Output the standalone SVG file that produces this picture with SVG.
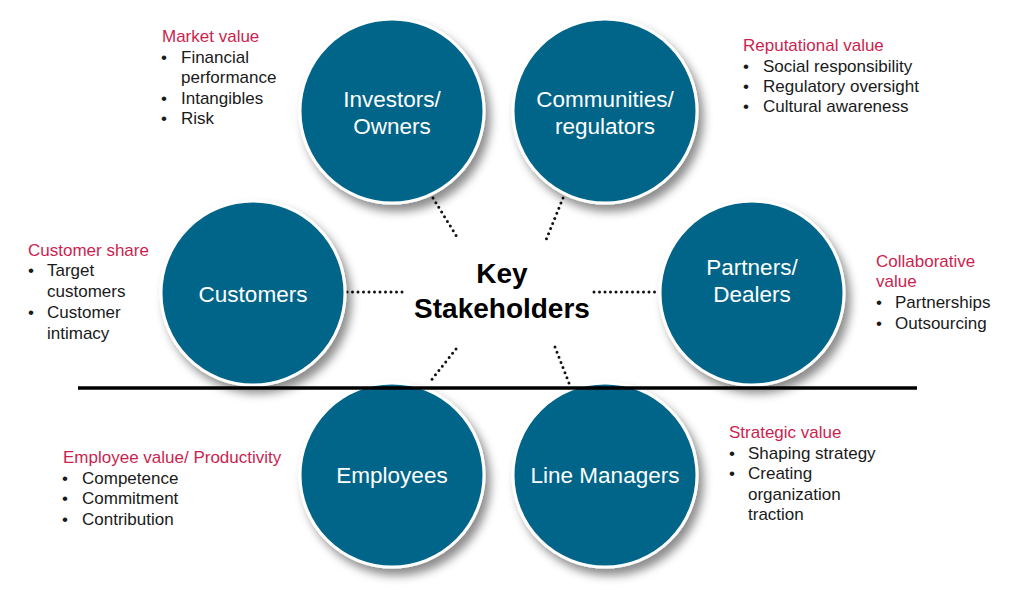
<svg xmlns="http://www.w3.org/2000/svg" width="1026" height="600" viewBox="0 0 1026 600">
  <defs>
    <filter id="shadow" x="-20%" y="-20%" width="150%" height="150%">
      <feDropShadow dx="5" dy="7" stdDeviation="5" flood-color="#000" flood-opacity="0.45"/>
    </filter>
    <style>
      .node circle { fill: #046588; stroke: #ffffff; stroke-width: 3; filter: url(#shadow); }
      .node text { fill: #ffffff; font-family: "Liberation Sans", Arial, sans-serif; font-size: 22.5px; text-anchor: middle; }
      .conn line { stroke: #111; stroke-width: 3; stroke-linecap: round; stroke-dasharray: 0 5.5; }
      .title { fill: #cc1f4f; font-family: "Liberation Sans", Arial, sans-serif; font-size: 17px; }
      .item { fill: #1a1a1a; font-family: "Liberation Sans", Arial, sans-serif; font-size: 17px; }
      .center { fill: #000; font-family: "Liberation Sans", Arial, sans-serif; font-size: 28px; font-weight: bold; text-anchor: middle; }
    </style>
  </defs>
  <rect width="1026" height="600" fill="#ffffff"/>

  <g id="connectors" class="conn">
    <line x1="433" y1="198" x2="457" y2="237"/>
    <line x1="563" y1="198" x2="546" y2="240"/>
    <line x1="347" y1="292" x2="405" y2="292"/>
    <line x1="594" y1="292" x2="657" y2="292"/>
    <line x1="456" y1="349" x2="429" y2="383"/>
    <line x1="555" y1="347" x2="569" y2="383"/>
  </g>

  <g id="investors" class="node">
    <circle cx="392" cy="111" r="92"/>
    <text x="392" y="107">Investors/</text>
    <text x="392" y="134">Owners</text>
  </g>
  <g id="communities" class="node">
    <circle cx="605" cy="111" r="92"/>
    <text x="605" y="107">Communities/</text>
    <text x="605" y="134">regulators</text>
  </g>
  <g id="customers" class="node">
    <circle cx="253" cy="293" r="92"/>
    <text x="253" y="302">Customers</text>
  </g>
  <g id="partners" class="node">
    <circle cx="752" cy="293" r="92"/>
    <text x="752" y="275">Partners/</text>
    <text x="752" y="302">Dealers</text>
  </g>
  <g id="employees" class="node">
    <circle cx="392" cy="475" r="92"/>
    <text x="392" y="483">Employees</text>
  </g>
  <g id="line-managers" class="node">
    <circle cx="605" cy="475" r="92"/>
    <text x="605" y="483">Line Managers</text>
  </g>

  <g id="divider">
    <line x1="78" y1="388" x2="917" y2="388" stroke="#000" stroke-width="3.5"/>
  </g>

  <g id="key-stakeholders">
    <text class="center" x="502" y="283">Key</text>
    <text class="center" x="502" y="318">Stakeholders</text>
  </g>

  <g id="market-value">
    <text class="title" x="162" y="42">Market value</text>
    <text class="item" x="161" y="63">•</text><text class="item" x="181" y="63">Financial</text>
    <text class="item" x="181" y="83">performance</text>
    <text class="item" x="161" y="104">•</text><text class="item" x="181" y="104">Intangibles</text>
    <text class="item" x="161" y="124">•</text><text class="item" x="181" y="124">Risk</text>
  </g>

  <g id="reputational-value">
    <text class="title" x="743" y="51">Reputational value</text>
    <text class="item" x="743" y="72">•</text><text class="item" x="763" y="72">Social responsibility</text>
    <text class="item" x="743" y="92">•</text><text class="item" x="763" y="92">Regulatory oversight</text>
    <text class="item" x="743" y="112">•</text><text class="item" x="763" y="112">Cultural awareness</text>
  </g>

  <g id="customer-share">
    <text class="title" x="28" y="256">Customer share</text>
    <text class="item" x="28" y="276">•</text><text class="item" x="47" y="276">Target</text>
    <text class="item" x="47" y="297">customers</text>
    <text class="item" x="28" y="318">•</text><text class="item" x="47" y="318">Customer</text>
    <text class="item" x="47" y="339">intimacy</text>
  </g>

  <g id="collaborative-value">
    <text class="title" x="876" y="267">Collaborative</text>
    <text class="title" x="876" y="287">value</text>
    <text class="item" x="876" y="308">•</text><text class="item" x="895" y="308">Partnerships</text>
    <text class="item" x="876" y="329">•</text><text class="item" x="895" y="329">Outsourcing</text>
  </g>

  <g id="employee-value">
    <text class="title" x="63" y="463">Employee value/ Productivity</text>
    <text class="item" x="62" y="484">•</text><text class="item" x="82" y="484">Competence</text>
    <text class="item" x="62" y="504">•</text><text class="item" x="82" y="504">Commitment</text>
    <text class="item" x="62" y="525">•</text><text class="item" x="82" y="525">Contribution</text>
  </g>

  <g id="strategic-value">
    <text class="title" x="729" y="438">Strategic value</text>
    <text class="item" x="729" y="459">•</text><text class="item" x="748" y="459">Shaping strategy</text>
    <text class="item" x="729" y="479">•</text><text class="item" x="748" y="479">Creating</text>
    <text class="item" x="748" y="500">organization</text>
    <text class="item" x="748" y="520">traction</text>
  </g>
</svg>
